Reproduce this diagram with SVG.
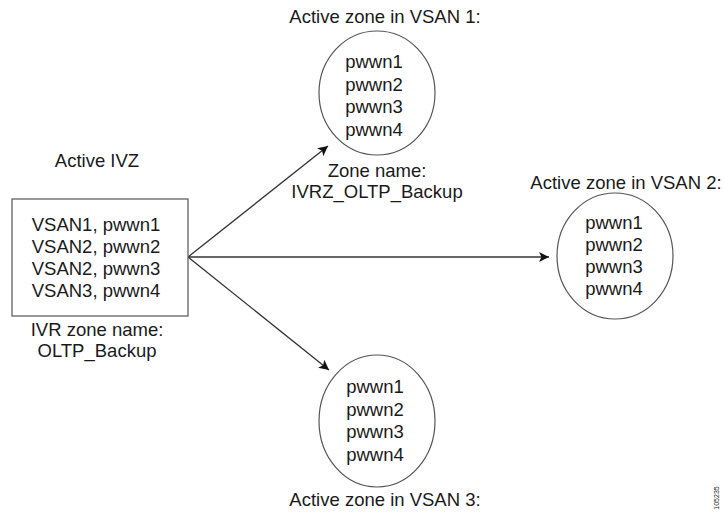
<svg xmlns="http://www.w3.org/2000/svg" width="724" height="516" viewBox="0 0 724 516">
<style>
text{font-family:"Liberation Sans",Arial,sans-serif;font-size:18.5px;fill:#1a1a1a;text-anchor:middle}
.shape{fill:#fff;stroke:#555;stroke-width:1.2}
.conn{stroke:#333;stroke-width:1.3;fill:none}
</style>
<defs>
<marker id="ah" viewBox="0 0 10 10" refX="10" refY="5" markerWidth="15" markerHeight="10" markerUnits="userSpaceOnUse" orient="auto">
<path d="M0,0 L10,5 L0,10 L2.5,5 Z" fill="#111"/>
</marker>
</defs>
<rect width="724" height="516" fill="#fff"/>
<g id="connectors">
<line class="conn" x1="188" y1="257" x2="328" y2="146" marker-end="url(#ah)"/>
<line class="conn" x1="188" y1="257" x2="549" y2="257" marker-end="url(#ah)"/>
<line class="conn" x1="188" y1="257" x2="329" y2="370" marker-end="url(#ah)"/>
</g>
<g id="ivz">
<text x="97" y="167">Active IVZ</text>
<rect class="shape" x="12" y="199" width="176" height="117"/>
<text x="96" y="231">VSAN1, pwwn1</text>
<text x="96" y="253">VSAN2, pwwn2</text>
<text x="96" y="275">VSAN2, pwwn3</text>
<text x="96" y="297">VSAN3, pwwn4</text>
<text x="97" y="336">IVR zone name:</text>
<text x="97" y="357">OLTP_Backup</text>
</g>
<g id="vsan1">
<text x="385" y="23">Active zone in VSAN 1:</text>
<ellipse class="shape" cx="377" cy="93" rx="58" ry="62"/>
<text x="374" y="68">pwwn1</text>
<text x="374" y="91">pwwn2</text>
<text x="374" y="113">pwwn3</text>
<text x="374" y="136">pwwn4</text>
<text x="377" y="177">Zone name:</text>
<text x="377" y="198">IVRZ_OLTP_Backup</text>
</g>
<g id="vsan2">
<text x="626" y="189">Active zone in VSAN 2:</text>
<ellipse class="shape" cx="615" cy="256" rx="58" ry="63"/>
<text x="614" y="229">pwwn1</text>
<text x="614" y="251">pwwn2</text>
<text x="614" y="273">pwwn3</text>
<text x="614" y="295">pwwn4</text>
</g>
<g id="vsan3">
<ellipse class="shape" cx="377" cy="421" rx="58" ry="66"/>
<text x="375" y="393">pwwn1</text>
<text x="375" y="416">pwwn2</text>
<text x="375" y="438">pwwn3</text>
<text x="375" y="461">pwwn4</text>
<text x="385" y="506">Active zone in VSAN 3:</text>
</g>
<text x="0" y="0" transform="translate(719,498) rotate(-90)" style="font-size:7px">105235</text>
</svg>
